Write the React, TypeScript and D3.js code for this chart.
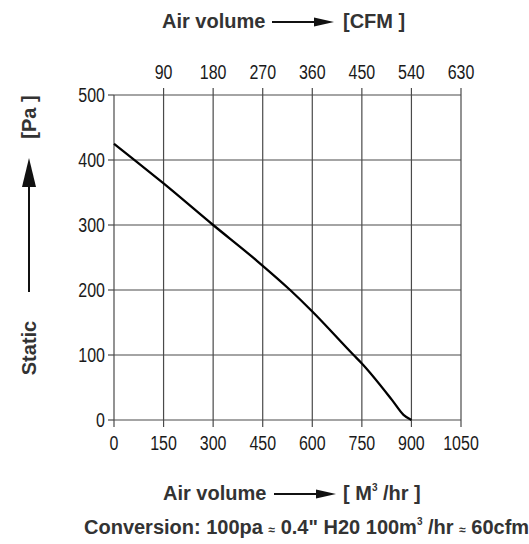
import React from "react";
import * as d3 from "d3";

// fan curve: air volume [m3/hr] vs static pressure [Pa]
const flowM3 = [0, 67, 150, 300, 430, 533, 600, 725, 750, 841, 876, 900];
const staticPa = [425, 398, 364, 300, 246, 200, 167, 100, 87, 31, 8, 0];

const bottomTicks = [0, 150, 300, 450, 600, 750, 900, 1050];
const topTicks = [90, 180, 270, 360, 450, 540, 630];
const leftTicks = [0, 100, 200, 300, 400, 500];

const W = 529;
const H = 544;
const plot = { left: 114, right: 461, top: 95, bottom: 420 };

const FONT = "'Liberation Sans', Arial, Helvetica, sans-serif";
const NARROW = 0.82;

const HArrow = ({ x0, x1, y }: { x0: number; x1: number; y: number }) => (
  <g>
    <line x1={x0} x2={x1 - 18} y1={y} y2={y} stroke="#111" strokeWidth={2} />
    <path d={`M${x1 - 20},${y - 4.5}L${x1},${y}L${x1 - 20},${y + 4.5}Z`} fill="#111" />
  </g>
);

export default function App() {
  const x = d3.scaleLinear().domain([0, 1050]).range([plot.left, plot.right]);
  const xCfm = d3.scaleLinear().domain([0, 630]).range([plot.left, plot.right]);
  const y = d3.scaleLinear().domain([0, 500]).range([plot.bottom, plot.top]);

  const pts = flowM3.map((f, i) => [f, staticPa[i]] as [number, number]);
  const line = d3
    .line<[number, number]>()
    .x((d) => x(d[0]))
    .y((d) => y(d[1]))
    .curve(d3.curveMonotoneX);

  const grid = "#4a4a4a";

  return (
    <svg
      width={W}
      height={H}
      style={{ position: "absolute", left: 0, top: 0, background: "#fff" }}
      fontFamily={FONT}
    >
      {/* grid */}
      {bottomTicks.map((t) => (
        <line key={"v" + t} x1={x(t)} x2={x(t)} y1={plot.top} y2={plot.bottom} stroke={grid} strokeWidth={1.2} />
      ))}
      {leftTicks.map((t) => (
        <line key={"h" + t} x1={plot.left} x2={plot.right} y1={y(t)} y2={y(t)} stroke={grid} strokeWidth={1.2} />
      ))}

      {/* ticks */}
      {bottomTicks.map((t) => (
        <line key={"bt" + t} x1={x(t)} x2={x(t)} y1={plot.bottom} y2={plot.bottom + 7} stroke={grid} strokeWidth={1.2} />
      ))}
      {topTicks.map((t) => (
        <line key={"tt" + t} x1={xCfm(t)} x2={xCfm(t)} y1={plot.top} y2={plot.top - 7} stroke={grid} strokeWidth={1.2} />
      ))}
      {leftTicks.map((t) => (
        <line key={"lt" + t} x1={plot.left - 6} x2={plot.left} y1={y(t)} y2={y(t)} stroke={grid} strokeWidth={1.2} />
      ))}

      {/* tick labels */}
      <g fontSize={19.5} fill="#1a1a1a">
        {bottomTicks.map((t) => (
          <text key={"bl" + t} transform={`translate(${x(t)},450) scale(${NARROW},1)`} textAnchor="middle">
            {t}
          </text>
        ))}
        {topTicks.map((t) => (
          <text key={"tl" + t} transform={`translate(${xCfm(t)},79) scale(${NARROW},1)`} textAnchor="middle">
            {t}
          </text>
        ))}
        {leftTicks.map((t) => (
          <text key={"ll" + t} transform={`translate(105,${y(t) + 7}) scale(${NARROW},1)`} textAnchor="end">
            {t}
          </text>
        ))}
      </g>

      {/* curve */}
      <path d={line(pts) || ""} fill="none" stroke="#000" strokeWidth={2.3} />

      {/* titles */}
      <g fontSize={20} fontWeight="bold" fill="#333">
        <text x={162} y={28}>Air volume</text>
        <HArrow x0={272} x1={334} y={22} />
        <text x={343} y={28}>[CFM ]</text>

        <text x={163} y={500}>Air volume</text>
        <HArrow x0={274} x1={336} y={494} />
        <text x={343} y={500}>
          [ M<tspan fontSize={10} dy={-9}>3</tspan>
          <tspan dy={9}> /hr ]</tspan>
        </text>

        <text x={84} y={534}>
          Conversion: 100pa <tspan fontSize={12}>≈</tspan> 0.4" H20 100m
          <tspan fontSize={10} dy={-9}>3</tspan>
          <tspan dy={9}> /hr </tspan>
          <tspan fontSize={12}>≈</tspan> 60cfm
        </text>

        <text transform="translate(36,348) rotate(-90)" textAnchor="middle">Static</text>
        <text transform="translate(36,117) rotate(-90)" textAnchor="middle">[Pa ]</text>
        <line x1={29} x2={29} y1={185} y2={292} stroke="#111" strokeWidth={2} />
        <path d="M22,187L29,158L36,187Z" fill="#111" />
      </g>
    </svg>
  );
}
